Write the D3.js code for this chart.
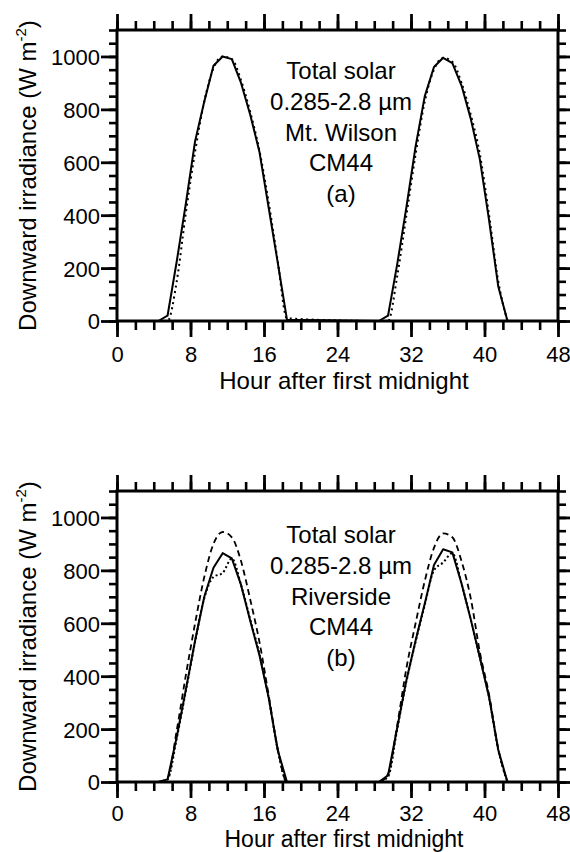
<!DOCTYPE html>
<html>
<head>
<meta charset="utf-8">
<script src="https://cdn.jsdelivr.net/npm/d3@7"></script>
<style>
  body { margin: 0; background: #fff; }
  svg text { font-family: "Liberation Sans", Arial, sans-serif; fill: #000; }
</style>
</head>
<body>
<svg id="chart" width="570" height="852"></svg>
<script>
// Hourly samples (mid-hour) for the two days; nights are zero.
const hours = [4.5, 5.5, 6.5, 7.5, 8.5, 9.5, 10.5, 11.5, 12.5, 13.5, 14.5, 15.5, 16.5, 17.5, 18.5,
               28.5, 29.5, 30.5, 31.5, 32.5, 33.5, 34.5, 35.5, 36.5, 37.5, 38.5, 39.5, 40.5, 41.5, 42.5];

// (a) Mt. Wilson: model (solid) and measured (dotted), W m-2
const wilsonModel    = [0, 20, 225, 445, 680, 830, 965, 1000, 990, 900, 780, 640, 430, 220, 5,
                        0, 20, 215, 430, 660, 850, 960, 995, 975, 890, 765, 610, 380, 130, 0];
const wilsonMeasured = [0, 0, 150, 410, 640, 830, 955, 1000, 990, 910, 790, 645, 450, 225, 10,
                        0, 0, 170, 400, 630, 830, 950, 995, 980, 900, 780, 630, 400, 150, 0];

// (b) Riverside: model (solid), upper estimate (dashed), lower estimate (dotted)
const riversideModel = [0, 10, 170, 350, 535, 700, 810, 865, 845, 745, 610, 480, 320, 120, 0,
                        0, 25, 205, 385, 535, 675, 820, 880, 868, 750, 615, 470, 320, 121, 0];
const riversideUpper = [0, 15, 195, 405, 600, 775, 900, 945, 925, 835, 690, 530, 330, 125, 0,
                        0, 30, 215, 430, 600, 760, 885, 940, 925, 835, 695, 490, 330, 125, 0];
const riversideLower = [0, 10, 165, 345, 530, 695, 775, 790, 845, 745, 615, 485, 320, 120, 0,
                        0, 20, 200, 380, 530, 670, 800, 830, 865, 750, 615, 470, 320, 121, 0];

const xTicks = [0, 8, 16, 24, 32, 40, 48];
const yTicks = [0, 200, 400, 600, 800, 1000];
const labelsA = ["Total solar", "0.285-2.8 \u00b5m", "Mt. Wilson", "CM44", "(a)"];
const labelsB = ["Total solar", "0.285-2.8 \u00b5m", "Riverside", "CM44", "(b)"];

const FONT = '"Liberation Sans", Arial, sans-serif';
const svg = d3.select("#chart");
const left = 117, right = 558, plotH = 291;
const x = d3.scaleLinear().domain([0, 48]).range([left, right]);

const panels = [
  { top: 30, labels: labelsA, labelTop: 79, tickGap: 41, titleGap: 68, titleSize: 24,
    series: [
      { values: wilsonModel, dash: null, width: 2, curve: d3.curveLinear },
      { values: wilsonMeasured, dash: "2,3.5", width: 2, curve: d3.curveMonotoneX }
    ] },
  { top: 491, labels: labelsB, labelTop: 543, tickGap: 39, titleGap: 65, titleSize: 23,
    series: [
      { values: riversideUpper, dash: "6,4", width: 1.8, curve: d3.curveMonotoneX },
      { values: riversideLower, dash: "2,2.5", width: 2, curve: d3.curveMonotoneX },
      { values: riversideModel, dash: null, width: 2, curve: d3.curveLinear }
    ] }
];

function styleAxis(g, w) {
  g.attr("font-family", FONT);
  g.select(".domain").remove();
  g.selectAll(".tick line").attr("stroke", "#000").attr("stroke-width", w);
}

panels.forEach(p => {
  const bottom = p.top + plotH;
  const y = d3.scaleLinear().domain([0, 1100]).range([bottom, p.top]);
  const g = svg.append("g").attr("font-family", FONT);

  // minor ticks
  g.append("g").attr("transform", `translate(0,${bottom})`)
    .call(d3.axisBottom(x).tickValues(d3.range(0, 49, 2)).tickSize(9).tickFormat(""))
    .call(a => styleAxis(a, 2.6));
  g.append("g").attr("transform", `translate(0,${p.top})`)
    .call(d3.axisTop(x).tickValues(d3.range(0, 49, 2)).tickSize(9).tickFormat(""))
    .call(a => styleAxis(a, 2.6));
  g.append("g").attr("transform", `translate(${left},0)`)
    .call(d3.axisLeft(y).tickValues(d3.range(0, 1101, 50)).tickSize(8).tickFormat(""))
    .call(a => styleAxis(a, 2.6));
  g.append("g").attr("transform", `translate(${right},0)`)
    .call(d3.axisRight(y).tickValues(d3.range(0, 1101, 50)).tickSize(8).tickFormat(""))
    .call(a => styleAxis(a, 2.6));

  // major ticks
  const xb = g.append("g").attr("transform", `translate(0,${bottom})`)
    .call(d3.axisBottom(x).tickValues(xTicks).tickSize(16).tickFormat(d3.format("d")))
    .call(a => styleAxis(a, 2.8));
  xb.selectAll(".tick text").attr("y", p.tickGap).attr("dy", null).attr("font-size", 22);
  g.append("g").attr("transform", `translate(0,${p.top})`)
    .call(d3.axisTop(x).tickValues(xTicks).tickSize(16).tickFormat(""))
    .call(a => styleAxis(a, 2.8));
  const yl = g.append("g").attr("transform", `translate(${left},0)`)
    .call(d3.axisLeft(y).tickValues(yTicks).tickSize(16).tickPadding(1).tickFormat(d3.format("d")))
    .call(a => styleAxis(a, 2.8));
  yl.selectAll(".tick text").attr("font-size", 22).attr("dy", "0.36em");
  g.append("g").attr("transform", `translate(${right},0)`)
    .call(d3.axisRight(y).tickValues(yTicks).tickSize(13).tickFormat(""))
    .call(a => styleAxis(a, 2.8));

  // frame
  g.append("rect").attr("x", left).attr("y", p.top)
    .attr("width", right - left).attr("height", plotH)
    .attr("fill", "none").attr("stroke", "#000").attr("stroke-width", 3);

  // curves
  p.series.forEach(s => {
    const line = d3.line().x((d, i) => x(hours[i])).y(d => y(d)).curve(s.curve);
    g.append("path").datum(s.values)
      .attr("d", line)
      .attr("fill", "none").attr("stroke", "#000")
      .attr("stroke-width", s.width)
      .attr("stroke-linejoin", "round")
      .attr("stroke-dasharray", s.dash);
  });

  // in-plot annotation
  const ann = g.append("text").attr("text-anchor", "middle").attr("font-size", 24);
  p.labels.forEach((t, i) => {
    ann.append("tspan").attr("x", 341).attr("y", p.labelTop + i * 30.8).text(t);
  });

  // axis titles
  g.append("text").attr("x", 344).attr("y", bottom + p.titleGap)
    .attr("text-anchor", "middle").attr("font-size", p.titleSize)
    .text("Hour after first midnight");

  const yt = g.append("text")
    .attr("transform", `translate(36,${(p.top + bottom) / 2}) rotate(-90)`)
    .attr("text-anchor", "middle").attr("font-size", 24);
  yt.append("tspan").text("Downward irradiance (W m");
  yt.append("tspan").attr("dy", -10).attr("font-size", 15).text("-2");
  yt.append("tspan").attr("dy", 10).text(")");
});
</script>
</body>
</html>
